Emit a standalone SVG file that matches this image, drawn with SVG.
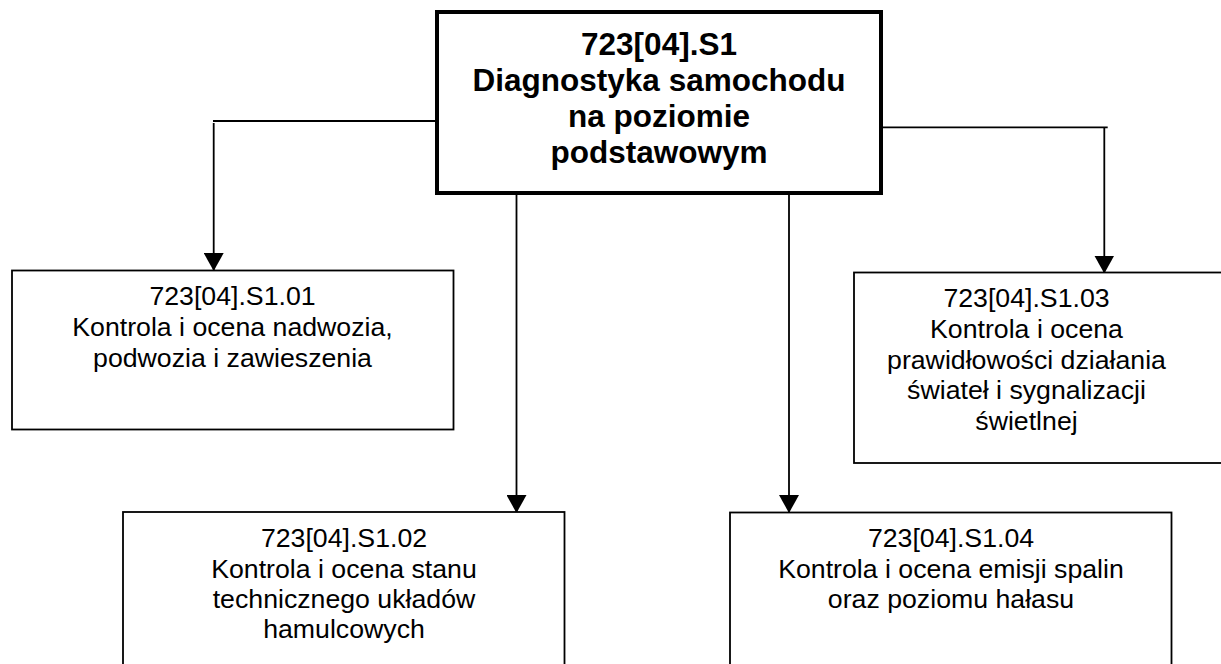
<svg xmlns="http://www.w3.org/2000/svg" width="1221" height="664" viewBox="0 0 1221 664">
<defs>
<style>
.box{fill:#fff;stroke:#000;stroke-width:1.8}
.main{fill:#fff;stroke:#000;stroke-width:4}
.ln{fill:none;stroke:#000;stroke-width:1.8}
.t{font-family:"Liberation Sans",Arial,sans-serif;font-size:26.7px;text-anchor:middle;fill:#000}
.tb{font-family:"Liberation Sans",Arial,sans-serif;font-size:31.5px;font-weight:bold;text-anchor:middle;fill:#000}
</style>
<marker id="ah" markerWidth="18" markerHeight="20" refX="17" refY="10" orient="auto" markerUnits="userSpaceOnUse" viewBox="0 0 18 20">
<path d="M0,0 L18,10 L0,20 Z" fill="#000"/>
</marker>
</defs>
<rect width="1221" height="664" fill="#fff"/>
<g id="connectors">
<path class="ln" d="M437,121 L213,121"/>
<path class="ln" d="M213.7,123 L213.7,270" marker-end="url(#ah)"/>
<path class="ln" d="M881,127.3 L1107.7,127.3"/>
<path class="ln" d="M1104.3,127.3 L1104.3,272.5" marker-end="url(#ah)"/>
<path class="ln" d="M516.5,195 L516.5,512" marker-end="url(#ah)"/>
<path class="ln" d="M789,195 L789,512" marker-end="url(#ah)"/>
</g>
<g id="node-main">
<rect class="main" x="437" y="12" width="444" height="181"/>
<text class="tb" x="659" y="55">723[04].S1</text>
<text class="tb" x="659" y="91">Diagnostyka samochodu</text>
<text class="tb" x="659" y="127">na poziomie</text>
<text class="tb" x="659" y="163">podstawowym</text>
</g>
<g id="node-01">
<rect class="box" x="12" y="270.5" width="441.5" height="159"/>
<text class="t" x="232.5" y="305">723[04].S1.01</text>
<text class="t" x="232.5" y="336">Kontrola i ocena nadwozia,</text>
<text class="t" x="232.5" y="366.5">podwozia i zawieszenia</text>
</g>
<g id="node-03">
<rect class="box" x="854" y="272.5" width="380" height="190.5"/>
<text class="t" x="1026.5" y="307">723[04].S1.03</text>
<text class="t" x="1026.5" y="338">Kontrola i ocena</text>
<text class="t" x="1026.5" y="368.5">prawidłowości działania</text>
<text class="t" x="1026.5" y="399">świateł i sygnalizacji</text>
<text class="t" x="1026.5" y="429.5">świetlnej</text>
</g>
<g id="node-02">
<rect class="box" x="123" y="512" width="441.5" height="170"/>
<text class="t" x="344" y="547">723[04].S1.02</text>
<text class="t" x="344" y="577.5">Kontrola i ocena stanu</text>
<text class="t" x="344" y="607.5">technicznego układów</text>
<text class="t" x="344" y="638">hamulcowych</text>
</g>
<g id="node-04">
<rect class="box" x="730" y="512.5" width="441.5" height="170"/>
<text class="t" x="951" y="547">723[04].S1.04</text>
<text class="t" x="951" y="577.5">Kontrola i ocena emisji spalin</text>
<text class="t" x="951" y="607.5">oraz poziomu hałasu</text>
</g>
</svg>
